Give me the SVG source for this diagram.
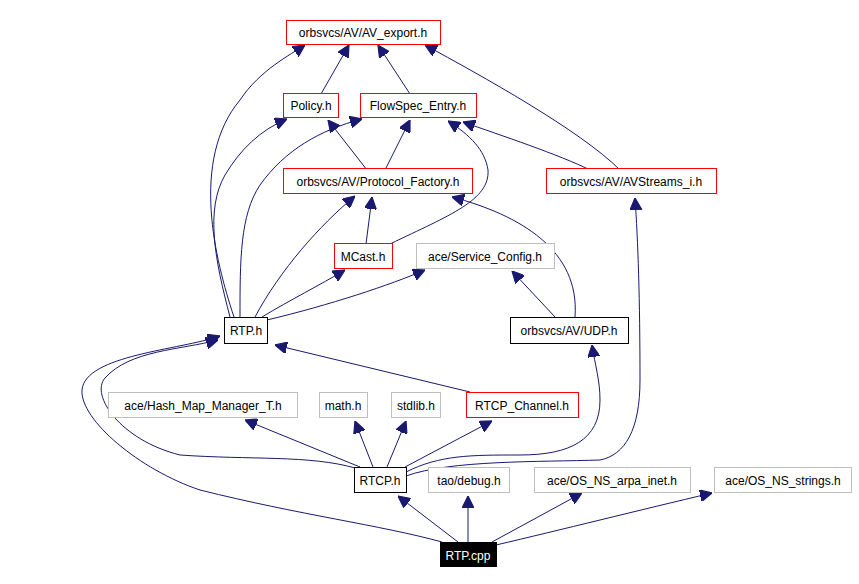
<svg xmlns="http://www.w3.org/2000/svg" width="859" height="584" viewBox="0 0 859 584">
<style>
.n rect{fill:#fff;stroke-width:1}
.r rect{stroke:#ff0000}.g rect{stroke:#bfbfbf}.b rect{stroke:#000}
text{font-family:"Liberation Sans",Arial,sans-serif;font-size:12px;text-anchor:middle;fill:#000}
#edges path{fill:none;stroke:#191970;stroke-width:1;marker-end:url(#a)}
</style>
<defs><marker id="a" viewBox="0 0 10 10" refX="10" refY="5" markerWidth="12" markerHeight="12" markerUnits="userSpaceOnUse" orient="auto"><path d="M0,0L10,5L0,10z" fill="#191970" stroke="#191970"/></marker></defs>
<rect width="859" height="584" fill="#fff"/>
<g id="edges">
<path d="M321,94L349,45"/>
<path d="M410,94L378,45"/>
<path d="M620,170C580,130 480,75 425,45"/>
<path d="M234,317C215,260 190,160 240,100C260,70 290,55 305,45"/>
<path d="M367,170L328,120"/>
<path d="M385,170L410,120"/>
<path d="M230,317C215,260 205,210 225,175C240,150 260,130 287,119"/>
<path d="M240,317C240,260 240,215 260,185C285,150 320,130 362,119"/>
<path d="M590,170C560,155 500,135 463,122"/>
<path d="M390,244C450,215 490,200 488,170C485,150 470,135 448,121"/>
<path d="M255,317C280,270 320,225 355,196"/>
<path d="M366,244L372,197"/>
<path d="M575,317C580,250 520,215 452,197"/>
<path d="M262,317C290,300 320,285 345,270"/>
<path d="M267,320C330,305 390,285 425,270"/>
<path d="M555,317L512,271"/>
<path d="M355,468C310,455 250,460 180,455C120,440 90,395 105,378C130,350 180,350 218,340"/>
<path d="M442,542C380,525 300,515 200,490C140,470 80,420 82,390C85,355 180,350 220,336"/>
<path d="M470,392L275,345"/>
<path d="M360,467L245,420"/>
<path d="M373,467L355,421"/>
<path d="M387,467L406,421"/>
<path d="M405,467L492,421"/>
<path d="M406,472C440,455 470,455 520,455C570,455 600,440 600,400C600,380 595,365 592,345"/>
<path d="M406,476C450,460 540,462 600,460C625,455 640,430 640,380C640,300 638,240 635,198"/>
<path d="M458,542L398,496"/>
<path d="M468,542L468,496"/>
<path d="M492,542L582,493"/>
<path d="M496,545C560,530 640,510 712,493"/>
</g>
<g id="av_export" class="n r"><rect x="286.5" y="20.5" width="154" height="24"/><text x="363" y="37">orbsvcs/AV/AV_export.h</text></g>
<g id="policy" class="n r"><rect x="283.5" y="93.5" width="55" height="24"/><text x="311" y="110">Policy.h</text></g>
<g id="flowspec" class="n r"><rect x="360.5" y="93.5" width="116" height="24"/><text x="418" y="110">FlowSpec_Entry.h</text></g>
<g id="protocol_factory" class="n r"><rect x="283.5" y="168.5" width="189" height="25"/><text x="378" y="186">orbsvcs/AV/Protocol_Factory.h</text></g>
<g id="avstreams" class="n r"><rect x="546.5" y="168.5" width="170" height="25"/><text x="631" y="186">orbsvcs/AV/AVStreams_i.h</text></g>
<g id="mcast" class="n r"><rect x="334.5" y="243.5" width="58" height="25"/><text x="363" y="261">MCast.h</text></g>
<g id="service_config" class="n g"><rect x="416.5" y="243.5" width="138" height="25"/><text x="485" y="261">ace/Service_Config.h</text></g>
<g id="rtp_h" class="n b"><rect x="224.5" y="317.5" width="43" height="26"/><text x="246" y="335">RTP.h</text></g>
<g id="udp" class="n b"><rect x="510.5" y="317.5" width="118" height="26"/><text x="569" y="335">orbsvcs/AV/UDP.h</text></g>
<g id="hash" class="n g"><rect x="108.5" y="392.5" width="189" height="25"/><text x="203" y="410">ace/Hash_Map_Manager_T.h</text></g>
<g id="math" class="n g"><rect x="319.5" y="392.5" width="48" height="25"/><text x="343" y="410">math.h</text></g>
<g id="stdlib" class="n g"><rect x="391.5" y="392.5" width="49" height="25"/><text x="416" y="410">stdlib.h</text></g>
<g id="rtcp_channel" class="n r"><rect x="466.5" y="392.5" width="112" height="25"/><text x="522" y="410">RTCP_Channel.h</text></g>
<g id="rtcp" class="n b"><rect x="354.5" y="467.5" width="52" height="25"/><text x="380" y="485">RTCP.h</text></g>
<g id="debug" class="n g"><rect x="428.5" y="467.5" width="81" height="25"/><text x="469" y="485">tao/debug.h</text></g>
<g id="arpa" class="n g"><rect x="534.5" y="467.5" width="156" height="25"/><text x="612" y="485">ace/OS_NS_arpa_inet.h</text></g>
<g id="strings" class="n g"><rect x="714.5" y="467.5" width="137" height="25"/><text x="783" y="485">ace/OS_NS_strings.h</text></g>
<g id="rtp_cpp"><rect x="440" y="542" width="57" height="25" fill="#000"/><text x="468" y="560" style="fill:#fff">RTP.cpp</text></g>
</svg>
